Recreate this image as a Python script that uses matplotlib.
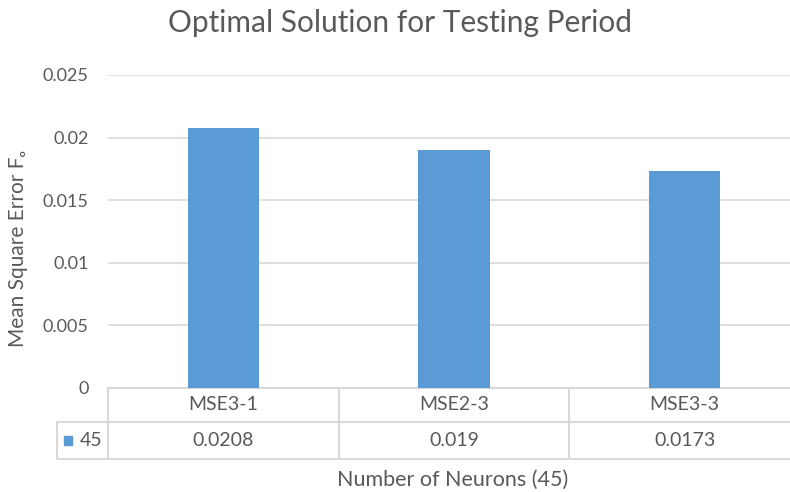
import matplotlib.pyplot as plt
import numpy as np
from matplotlib.transforms import blended_transform_factory
from matplotlib.lines import Line2D
from matplotlib.patches import Rectangle

# Data
categories = ["MSE3-1", "MSE2-3", "MSE3-3"]
series_name = "45"
values = [0.0208, 0.019, 0.0173]
value_labels = ["0.0208", "0.019", "0.0173"]
y_ticks = [0, 0.005, 0.01, 0.015, 0.02, 0.025]
y_tick_labels = ["0", "0.005", "0.01", "0.015", "0.02", "0.025"]

plt.rcParams['font.family'] = ['Lato', 'DejaVu Sans']
txt = '#595959'
line_c = '#d9d9d9'
bar_c = '#5b9bd5'

W, H = 790, 492
fig = plt.figure(figsize=(W / 100, H / 100), dpi=100)
ax = fig.add_axes([108 / W, 1 - 388 / H, (800 - 108) / W, (388 - 75) / H])

x = np.arange(len(categories))
ax.bar(x, values, width=0.31, color=bar_c, zorder=3)
ax.set_xlim(-0.5, len(categories) - 0.5)
ax.set_ylim(0, 0.025)
ax.set_yticks(y_ticks)
ax.set_yticklabels(y_tick_labels, color=txt, fontsize=13)
ax.tick_params(axis='y', length=0, pad=14)
ax.set_xticks([])
ax.grid(axis='y', color=line_c, linewidth=1.2, zorder=0)
for s in ax.spines.values():
    s.set_visible(False)

# data table under the chart
tr = blended_transform_factory(ax.transData, ax.transAxes)
ax_h = 388 - 75
r1 = -(422 - 388) / ax_h
r2 = -(459 - 388) / ax_h
legend_left = -0.5 - (108 - 57) / ((800 - 108) / len(categories))

def hline(x0, x1, y):
    ax.add_line(Line2D([x0, x1], [y, y], transform=tr, color=line_c, lw=1.5, clip_on=False))

def vline(xv, y0, y1):
    ax.add_line(Line2D([xv, xv], [y0, y1], transform=tr, color=line_c, lw=1.5, clip_on=False))

right = len(categories) - 0.5
hline(-0.5, right, 0)
hline(legend_left, right, r1)
hline(legend_left, right, r2)
vline(legend_left, r1, r2)
for b in np.arange(-0.5, right + 0.01, 1.0):
    vline(b, 0, r2)

for i, (c, v) in enumerate(zip(categories, value_labels)):
    ax.text(i, r1 / 2, c, transform=tr, ha='center', va='center', color=txt, fontsize=14)
    ax.text(i, (r1 + r2) / 2, v, transform=tr, ha='center', va='center', color=txt, fontsize=14)

# legend key
ax.text(-0.5 - 0.025, (r1 + r2) / 2, series_name, transform=tr, ha='right', va='center',
        color=txt, fontsize=14)
ax.add_patch(Rectangle((legend_left + 0.03, (r1 + r2) / 2 - 0.013), 0.035, 0.026,
                       transform=tr, color=bar_c, clip_on=False))

fig.text(453 / W, 1 - 480 / H, "Number of Neurons (45)", ha='center', va='center',
         color=txt, fontsize=15.5)
fig.text(18 / W, 1 - 249 / H, "Mean Square Error F\u2092", ha='center', va='center',
         rotation=90, color=txt, fontsize=15)
fig.text(400 / W, 1 - 23 / H, "Optimal Solution for Testing Period", ha='center',
         va='center', color=txt, fontsize=21.5)

fig.savefig("out.png", dpi=100)
